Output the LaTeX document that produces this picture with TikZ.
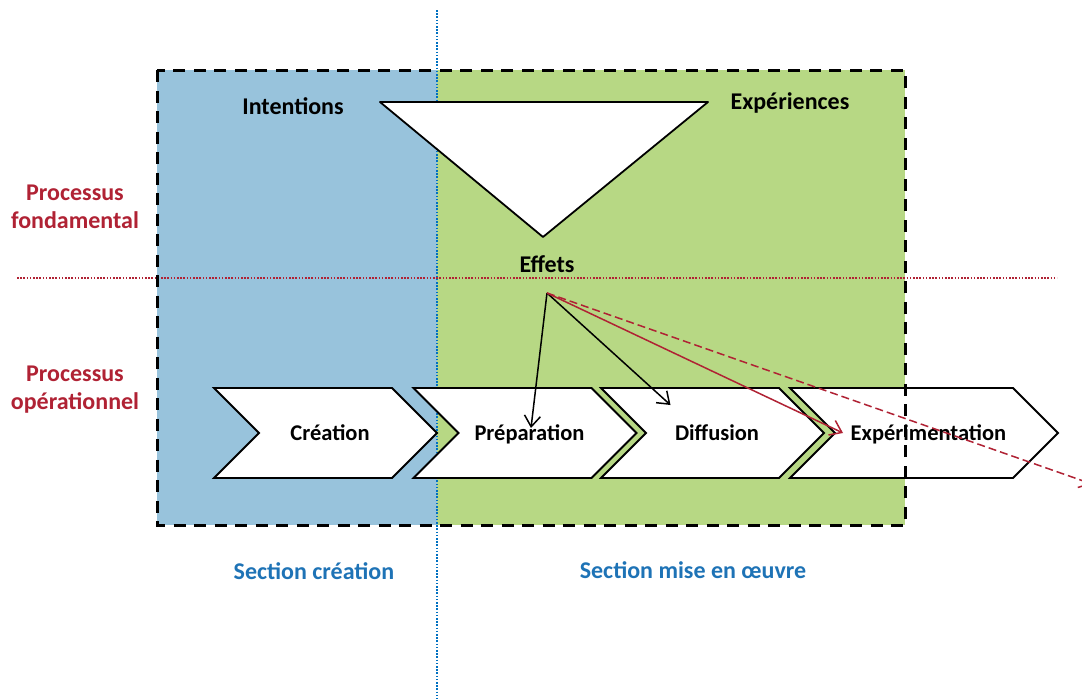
\documentclass[tikz,border=0pt]{standalone}
\usepackage{fontspec}
\setmainfont{Carlito}
\usetikzlibrary{positioning,shapes.symbols,arrows.meta}
\definecolor{creablue}{RGB}{152,195,220}
\definecolor{misegreen}{RGB}{183,216,132}
\definecolor{procred}{RGB}{176,34,52}
\definecolor{secblue}{RGB}{30,115,182}
\definecolor{lineblue}{RGB}{0,112,192}
\tikzset{chev/.style={signal,signal from=west,signal to=east,draw,fill=white,line width=1.8pt,
			minimum width=223pt,minimum height=90pt,inner sep=0pt,
			text height=18pt,text depth=4pt,execute at begin node={\hspace*{9pt}},
			font=\fontsize{22.5}{27}\selectfont\bfseries},
	 lbl/.style={font=\fontsize{24}{28}\selectfont\bfseries,inner sep=0pt},
	 proc/.style={lbl,text=procred,align=center},
	 sect/.style={lbl,text=secblue},
	 arr/.style={line width=1.5pt,-{Straight Barb[length=11pt,width=16pt]}},
	 node distance = 1
	 }

\begin{document}
\begin{tikzpicture}[x=1pt,y=-1pt] % sections creation / mise en oeuvre
	\useasboundingbox (0,0) rectangle (1082,699);
	\fill[creablue] (157,70) rectangle (437,525);
	\fill[misegreen] (437,70) rectangle (905,525);
	\draw[lineblue,line width=1.6pt,dash pattern=on 1.6pt off 1.6pt] (437,10) -- (437,699);
	\draw[procred,line width=1.6pt,dash pattern=on 1.6pt off 1.6pt] (17,278) -- (1057,278);
	\draw[fill=white,line width=1.8pt,line join=round] (380,102) -- (708,102) -- (543,237) -- cycle;
	\node[lbl,anchor=base] (int) at (293,114) {Intentions};
	\node[lbl,anchor=base] (exper) at (790,109) {Expériences};
	\node[lbl,anchor=base] (eff) at (547,272) {Effets};
	\coordinate (src) at (547,293);
	\node[proc] (fond) at (75,207) {Processus\\fondamental};
	\node[proc] (oper) at (75,390) {Processus\\opérationnel};
	\node[chev] (crea) at (325.5,433) {Création};
	\node[chev] (prep) at (525,433) {Préparation};
	\node[chev] (diff) at (712.5,433) {Diffusion};
	\node[chev,minimum width=268pt] (expe) at (924,433) {Expérimentation};
	\draw[line width=3pt,dash pattern=on 12pt off 8.5pt] (157,70) rectangle (905,525);
	\node[sect,anchor=base] (screa) at (314,579) {Section création};
	\node[sect,anchor=base] (smise) at (693,578) {Section mise en œuvre};
	\coordinate (far) at (1092,484);
	\draw[arr] (src) -- ([xshift=6pt,yshift=5pt]prep.center);
	\draw[arr] (src) -- ([xshift=-42pt,yshift=28pt]diff.center);
	\draw[arr,procred] (src) -- ([xshift=-81pt]expe.center);
	\draw[arr,procred,dash pattern=on 8pt off 4pt] (src) -- (far);
\end{tikzpicture}
\end{document}
